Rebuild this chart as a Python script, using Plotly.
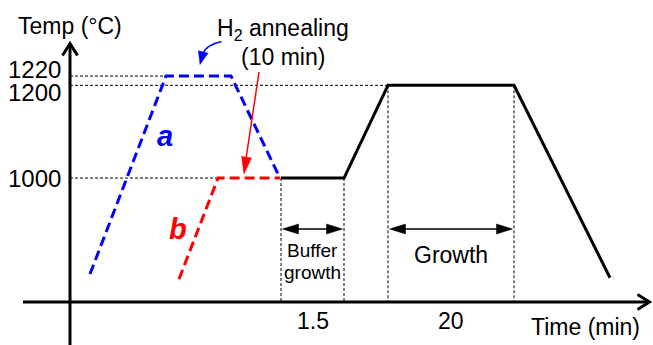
import math
import plotly.graph_objects as go

# ---------------- data (schematic time units, temperature in °C) ----------------
# profile a (blue, dashed): ramp to 1220 °C, H2 anneal, cool to 1000 °C
time_a = [20, 96, 161, 210]
temp_a = [793, 1220, 1220, 1000]
# profile b (red, dashed): ramp to 1000 °C, H2 anneal
time_b = [109, 148, 210]
temp_b = [782, 1000, 1000]
# common part (black, solid): buffer growth at 1000, ramp to 1200, growth, cool
time_c = [211, 274, 318, 444, 540]
temp_c = [1000, 1000, 1200, 1200, 785]

tick_vals = [1220, 1200, 1000]
tick_text = ["1220", "1200", "1000"]
tick_label_shift = [7, -7, 0]        # px (up positive) to keep the two close labels apart

stage_labels = ["1.5", "20"]
stage_spans = [(211, 274), (318, 444)]

FONT = "Arial, Liberation Sans, Helvetica, sans-serif"

# axis mapping (pixel frame 653 x 345)
W, H = 653, 345
X0 = -70                       # left edge in time units
Y_TOP, Y_BOT = 1384, 640       # temperature at top / bottom edge
K = (Y_TOP - Y_BOT) / H        # °C per pixel

def ty(py):                    # pixel row -> temperature coord (for decorations)
    return Y_TOP - py * K

def tx(px):                    # pixel column -> time coord (for decorations)
    return px + X0

AXIS_T = ty(302)               # temperature at which the time axis is drawn

fig = go.Figure()
shapes = []
ann = []

dash_ref = "3px,2px"
def ref_line(xs, ys):
    fig.add_trace(go.Scatter(x=xs, y=ys, mode="lines",
                             line=dict(color="black", width=1, dash=dash_ref),
                             hoverinfo="skip", showlegend=False))

# horizontal reference lines from the temperature axis
ref_line([0, time_a[1]], [1220, 1220])
ref_line([0, time_c[2]], [1200, 1200])
ref_line([0, time_b[1]], [1000, 1000])
# vertical reference lines down to the time axis
for t, T in [(time_c[0], 1000), (time_c[1], 1000), (time_c[2], 1200), (time_c[3], 1200)]:
    ref_line([t, t], [T, AXIS_T])

# profiles
fig.add_trace(go.Scatter(x=time_a, y=temp_a, mode="lines",
                         line=dict(color="#0000FF", width=3, dash="10px,5px"),
                         showlegend=False))
fig.add_trace(go.Scatter(x=time_b, y=temp_b, mode="lines",
                         line=dict(color="#FF0000", width=3, dash="10px,5px"),
                         showlegend=False))
fig.add_trace(go.Scatter(x=time_c, y=temp_c, mode="lines",
                         line=dict(color="black", width=3),
                         showlegend=False))

# ---- decoration helpers (pixel geometry -> data coords) ----
def head(tip, frm, length, half, color):
    dx, dy = tip[0] - frm[0], tip[1] - frm[1]
    n = math.hypot(dx, dy)
    ux, uy = dx / n, dy / n
    bx, by = tip[0] - ux * length, tip[1] - uy * length
    p1 = (bx - uy * half, by + ux * half)
    p2 = (bx + uy * half, by - ux * half)
    pts = [tip, p1, p2]
    path = "M " + " L ".join(f"{tx(p[0])},{ty(p[1])}" for p in pts) + " Z"
    shapes.append(dict(type="path", xref="x", yref="y", path=path,
                       fillcolor=color, line=dict(color=color, width=0.5)))

def seg(p, q, color, width):
    shapes.append(dict(type="line", xref="x", yref="y",
                       x0=tx(p[0]), y0=ty(p[1]), x1=tx(q[0]), y1=ty(q[1]),
                       line=dict(color=color, width=width)))

def polyline(pts, color, width):
    path = "M " + " L ".join(f"{tx(p[0])},{ty(p[1])}" for p in pts)
    shapes.append(dict(type="path", xref="x", yref="y", path=path,
                       line=dict(color=color, width=width)))

# axes with open chevron arrow heads
seg((70, 345), (70, 44), "black", 3)
polyline([(62.5, 55.5), (70, 43.5), (77.5, 55.5)], "black", 3)
seg((23, 302), (648, 302), "black", 3)
polyline([(637.5, 294.5), (649.5, 302), (637.5, 309.5)], "black", 3)

def text(x, y, s, size=23, color="black", xanchor="center", bold=False, italic=False):
    if bold:
        s = "<b>" + s + "</b>"
    if italic:
        s = "<i>" + s + "</i>"
    ann.append(dict(x=x, y=y, xref="x", yref="y", text=s, showarrow=False,
                    xanchor=xanchor, yanchor="middle",
                    font=dict(family=FONT, size=size, color=color)))

text(0, ty(26), "Temp (°C)")
text(tx(283), ty(29), "H<sub>2</sub> annealing")
text(tx(283), ty(57), "(10 min)")
text(tx(585), ty(327), "Time (min)")

for v, lab, sh in zip(tick_vals, tick_text, tick_label_shift):
    ann.append(dict(x=tx(63), y=v, xref="x", yref="y", text=lab, showarrow=False,
                    xanchor="right", yanchor="middle", yshift=sh,
                    font=dict(family=FONT, size=24, color="black")))

# a / b labels
text(tx(165), ty(136), "a", size=29, color="#0000FF", bold=True, italic=True)
text(tx(178), ty(229), "b", size=29, color="#FF0000", bold=True, italic=True)

# stage durations + double arrows
ARROW_ROW = 229
for (t0, t1), lab in zip(stage_spans, stage_labels):
    mid = (t0 + t1) / 2
    text(mid, ty(321), lab)
    l = (t0 - X0 + 1.5, ARROW_ROW)
    r = (t1 - X0 - 1.5, ARROW_ROW)
    seg((l[0] + 8, ARROW_ROW), (r[0] - 8, ARROW_ROW), "black", 1.5)
    head(r, l, 16, 5, "black")
    head(l, r, 16, 5, "black")

b_mid = (stage_spans[0][0] + stage_spans[0][1]) / 2
g_mid = (stage_spans[1][0] + stage_spans[1][1]) / 2
text(b_mid, ty(250), "Buffer", size=19)
text(b_mid, ty(272), "growth", size=19)
text(g_mid, ty(255), "Growth", size=23)

# red arrow to profile b plateau
seg((259, 72), (245.5, 162), "#FF0000", 1.5)
head((244, 174), (259, 72), 17, 5, "#FF0000")

# blue curved arrow to profile a plateau
p0 = (tx(221.5), ty(41.5)); pc = (tx(206), ty(45)); p1 = (tx(202.5), ty(54))
shapes.append(dict(type="path", xref="x", yref="y",
                   path=f"M {p0[0]},{p0[1]} Q {pc[0]},{pc[1]} {p1[0]},{p1[1]}",
                   line=dict(color="#0000FF", width=1.5)))
head((200, 64.5), (203.5, 51), 13, 5, "#0000FF")

fig.update_layout(
    width=W, height=H, autosize=False,
    margin=dict(l=0, r=0, t=0, b=0, pad=0),
    paper_bgcolor="white", plot_bgcolor="white",
    xaxis=dict(range=[X0, X0 + W], visible=False, fixedrange=True),
    yaxis=dict(range=[Y_BOT, Y_TOP], visible=False, fixedrange=True),
    annotations=ann, shapes=shapes, showlegend=False,
)

fig.write_html("out.html")
